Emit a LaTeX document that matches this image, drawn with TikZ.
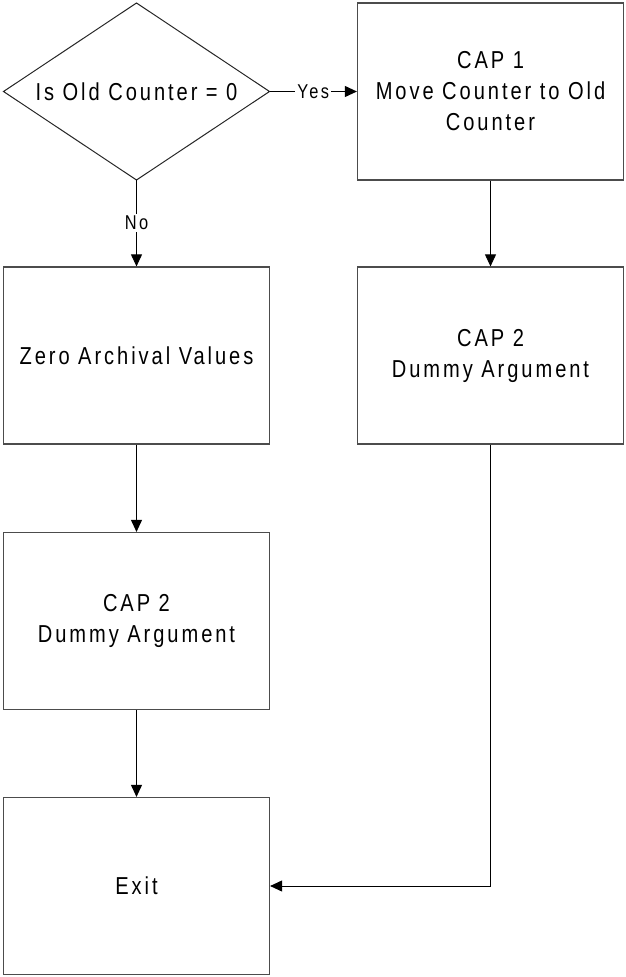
\documentclass[tikz,border=0pt]{standalone}
\usepackage{fontspec}
\usetikzlibrary{shapes.geometric,arrows.meta}
\newfontfamily\dfont[FakeStretch=0.82,LetterSpace=12]{Liberation Sans}
\tikzset{
  box/.style={draw=black!70,line width=1.2pt,minimum width=266pt,minimum height=177pt,inner sep=0pt,align=center,font=\dfont\fontsize{24.5}{31}\selectfont},
  dec/.style={draw=black!85,line width=1pt,shape=diamond,aspect=1.5,minimum width=266pt,minimum height=177pt,inner sep=0pt,outer sep=0pt,font=\dfont\fontsize{24.5}{31}\selectfont},
  conn/.style={line width=0.9pt,-{Triangle[length=12pt,width=11pt]}},
  lbl/.style={fill=white,inner sep=2pt,font=\dfont\fontsize{20}{22}\selectfont}
}
\begin{document}
\begin{tikzpicture}[x=1pt,y=-1pt]
\useasboundingbox (0,0) rectangle (625,977);
\node[dec] (d) at (136.5,91.5) {Is Old Counter = 0};
\node[box] (c1) at (490.5,91.5) {CAP 1\\Move Counter to Old\\Counter};
\node[box] (z) at (136.5,355.5) {Zero Archival Values};
\node[box] (c2r) at (490.5,355.5) {CAP 2\\Dummy Argument};
\node[box] (c2l) at (136.5,621) {CAP 2\\Dummy Argument};
\node[box] (ex) at (136.5,886) {Exit};
\draw[conn] (d.east) -- node[lbl] {Yes} (c1.west);
\draw[conn] (d.south) -- node[lbl] {No} (z.north);
\draw[conn] (c1.south) -- (c2r.north);
\draw[conn] (z.south) -- (c2l.north);
\draw[conn] (c2l.south) -- (ex.north);
\draw[conn] (c2r.south) |- (ex.east);
\end{tikzpicture}
\end{document}
